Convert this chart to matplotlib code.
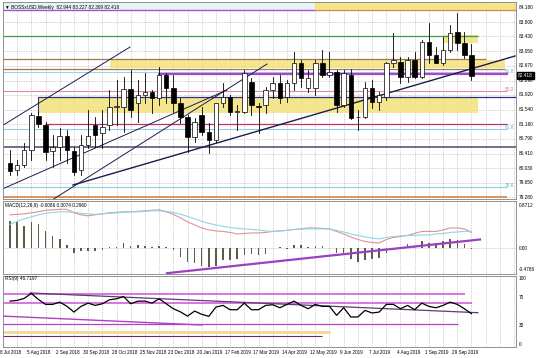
import matplotlib
matplotlib.use("Agg")
import matplotlib.pyplot as plt
from matplotlib.patches import Rectangle

# weekly bars, 8 Jul 2018 .. 6 Oct 2019
opens = [80.17, 79.98, 80.11, 80.50, 81.38, 81.15, 80.47, 80.58, 80.86, 80.47,
         79.98, 80.63, 81.15, 80.94, 81.15, 81.61, 81.61, 82.07, 81.71, 81.92,
         82.00, 81.84, 82.43, 82.10, 81.71, 81.35, 80.84, 81.40, 80.96, 80.76,
         81.71, 81.87, 81.48, 81.48, 82.25, 81.64, 81.66, 82.05, 82.23, 81.87,
         82.23, 82.74, 82.10, 82.10, 82.74, 82.43, 82.51, 81.66, 82.43, 81.35,
         81.35, 82.10, 81.74, 81.87, 82.74, 82.77, 82.38, 82.82, 82.38, 83.28,
         82.95, 82.74, 83.08, 83.54, 83.26, 82.944]
highs = [80.50, 80.24, 80.68, 81.45, 81.48, 81.22, 80.89, 81.07, 81.02, 80.58,
         80.89, 81.53, 81.35, 81.53, 82.05, 82.30, 82.38, 82.56, 82.30, 82.49,
         82.05, 82.64, 82.49, 82.43, 81.84, 81.40, 81.33, 81.61, 81.20, 81.72,
         82.23, 81.92, 81.66, 82.56, 82.36, 81.71, 82.12, 82.38, 82.43, 82.30,
         83.03, 82.82, 82.56, 82.82, 83.08, 83.03, 82.56, 82.56, 82.59, 81.53,
         82.25, 82.30, 82.00, 82.77, 83.52, 82.90, 82.90, 83.03, 83.34, 83.78,
         83.16, 83.41, 83.72, 84.03, 83.54, 83.227]
lows = [79.86, 79.86, 80.06, 80.24, 81.09, 80.24, 80.06, 80.24, 80.17, 79.86,
        79.86, 80.55, 80.58, 80.55, 81.02, 81.15, 80.96, 81.35, 81.22, 81.71,
        81.45, 81.66, 81.71, 81.48, 81.20, 80.45, 80.71, 80.89, 80.42, 80.71,
        81.61, 81.40, 81.02, 81.45, 81.40, 80.94, 81.45, 81.84, 81.71, 81.74,
        82.05, 82.12, 81.99, 81.92, 82.38, 82.38, 81.48, 81.60, 81.30, 81.01,
        81.33, 81.58, 81.53, 81.79, 82.64, 82.23, 82.25, 82.36, 82.36, 82.74,
        82.74, 82.69, 83.03, 83.08, 82.87, 82.309]
closes = [79.96, 80.11, 80.50, 81.40, 81.17, 80.45, 80.58, 80.86, 80.50, 79.93,
          80.63, 80.86, 80.89, 81.09, 81.61, 81.63, 82.07, 81.53, 81.92, 82.00,
          81.84, 82.43, 82.10, 81.71, 81.35, 80.84, 81.22, 80.96, 80.76, 81.71,
          81.87, 81.48, 81.50, 82.49, 81.66, 81.62, 82.05, 82.23, 81.84, 82.23,
          82.74, 82.36, 82.36, 82.74, 82.43, 82.51, 81.66, 82.49, 81.33, 81.36,
          82.10, 81.74, 81.92, 82.74, 82.82, 82.38, 82.82, 82.38, 83.28, 82.95,
          82.74, 83.08, 83.52, 83.26, 82.95, 82.418]

macd_hist = [0.54, 0.51, 0.44, 0.51, 0.48, 0.33, 0.23, 0.17, 0.07, -0.09,
             -0.06, -0.05, -0.05, -0.04, 0.02, 0.03, 0.10, 0.05, 0.06, 0.05,
             0.02, 0.04, 0.02, -0.03, -0.17, -0.27, -0.30, -0.35, -0.37, -0.35,
             -0.24, -0.24, -0.21, -0.13, -0.11, -0.14, -0.11, 0.01, 0.02, -0.02,
             0.06, 0.06, 0.02, 0.04, 0.04, 0.00, -0.09, -0.09, -0.21, -0.27,
             -0.24, -0.22, -0.19, -0.09, 0.00, -0.01, 0.08, 0.05, 0.13, 0.10,
             0.10, 0.13, 0.17, 0.15, 0.08, -0.01]
macd_red = [0.66, 0.67, 0.68, 0.70, 0.72, 0.75, 0.76, 0.77, 0.77, 0.70,
            0.66, 0.64, 0.66, 0.68, 0.70, 0.71, 0.72, 0.72, 0.73, 0.74,
            0.75, 0.76, 0.72, 0.67, 0.60, 0.52, 0.46, 0.40, 0.36, 0.34,
            0.33, 0.31, 0.28, 0.29, 0.30, 0.30, 0.31, 0.33, 0.34, 0.35,
            0.37, 0.38, 0.40, 0.40, 0.39, 0.38, 0.33, 0.28, 0.22, 0.17,
            0.13, 0.11, 0.10, 0.17, 0.21, 0.23, 0.25, 0.29, 0.33, 0.33,
            0.33, 0.36, 0.40, 0.40, 0.38, 0.31]
macd_cyan = [0.47, 0.53, 0.58, 0.62, 0.66, 0.69, 0.71, 0.72, 0.72, 0.71,
             0.69, 0.68, 0.67, 0.68, 0.69, 0.70, 0.71, 0.72, 0.72, 0.73,
             0.74, 0.74, 0.73, 0.71, 0.67, 0.63, 0.58, 0.53, 0.49, 0.46,
             0.43, 0.41, 0.39, 0.38, 0.37, 0.36, 0.34, 0.33, 0.34, 0.35,
             0.37, 0.38, 0.38, 0.38, 0.38, 0.38, 0.35, 0.32, 0.28, 0.25,
             0.22, 0.20, 0.18, 0.21, 0.23, 0.24, 0.25, 0.25, 0.26, 0.26,
             0.28, 0.29, 0.31, 0.32, 0.33, 0.33]
rsi = [64.6, 65.6, 68.5, 75.5, 67.0, 60.0, 60.0, 63.2, 57.5, 49.2,
       57.2, 61.8, 58.6, 60.9, 66.5, 67.9, 71.1, 60.9, 64.6, 64.6,
       61.8, 67.9, 60.9, 53.9, 49.5, 43.5, 50.6, 46.0, 43.2, 56.2,
       58.6, 52.5, 52.5, 61.8, 52.5, 52.5, 58.6, 59.5, 55.3, 60.0,
       64.6, 58.6, 53.9, 60.0, 57.2, 57.2, 44.6, 55.3, 42.3, 42.3,
       51.6, 47.9, 49.2, 60.0, 60.0, 53.9, 58.6, 52.5, 61.8, 57.2,
       55.3, 58.6, 63.2, 60.0, 53.9, 46.9]

date_labels = ["8 Jul 2018", "5 Aug 2018", "2 Sep 2018", "30 Sep 2018", "28 Oct 2018",
               "25 Nov 2018", "23 Dec 2018", "20 Jan 2019", "17 Feb 2019", "17 Mar 2019",
               "14 Apr 2019", "12 May 2019", "9 Jun 2019", "7 Jul 2019", "4 Aug 2019",
               "1 Sep 2019", "29 Sep 2019"]
price_ticks = [84.180, 83.800, 83.430, 83.050, 82.670, 82.290, 81.920,
               81.540, 81.160, 80.790, 80.410, 80.030, 79.650, 79.280]

plt.rcParams["font.family"] = ["Liberation Sans", "DejaVu Sans"]

W, H = 536, 358
fig = plt.figure(figsize=(W / 100, H / 100), dpi=100)
fig.patch.set_facecolor("white")


def px_axes(x0, y0, x1, y1):
    return fig.add_axes([x0 / W, 1 - y1 / H, (x1 - x0) / W, (y1 - y0) / H])


ax = px_axes(3, 2, 516, 199)
ax_m = px_axes(3, 201, 516, 274)
ax_r = px_axes(3, 276, 516, 347)

XMIN, XMAX = -0.99, 71.27
FS = 3.4
GRID = "#a8a8a8"
n = len(closes)

for a in (ax, ax_m, ax_r):
    a.set_xlim(XMIN, XMAX)
    a.set_xticks([])
    a.set_yticks([])
    for s in a.spines.values():
        s.set_color("#808080")
        s.set_linewidth(0.6)
    for i in range(1, 72, 2):
        a.axvline(i, color=GRID, ls=(0, (1, 1.5)), lw=0.5, zorder=0)

# ---------------- price panel ----------------
ax.set_ylim(79.237, 84.317)
for p in price_ticks:
    ax.axhline(p, color=GRID, ls=(0, (1, 1.5)), lw=0.5, zorder=0)


def hline(a, y, x0, x1, color, lw=0.8, z=1):
    a.plot([x0, x1], [y, y], color=color, lw=lw, zorder=z, solid_capstyle="butt")


def zone(a, x0, x1, y0, y1, color="#f3e27a", alpha=0.85):
    a.add_patch(Rectangle((x0, y0), x1 - x0, y1 - y0, facecolor=color,
                          edgecolor="none", alpha=alpha, zorder=0.5))


# supply / demand zones
zone(ax, XMIN, 43.0, 84.11, 84.32, color="#e6f3f7", alpha=1)
zone(ax, 43.0, XMAX, 84.11, 84.32)
zone(ax, 61.0, 65.9, 83.27, 83.47)
zone(ax, 14.1, 69.7, 82.61, 82.82)
zone(ax, 3.94, 65.9, 81.45, 81.87)

hline(ax, 84.10, XMIN, 43.0, "#b050c8", 1.0)
hline(ax, 84.11, 43.0, XMAX, "#e0903a", 1.0)
hline(ax, 83.44, XMIN, 65.9, "#3c9a4a", 0.9)
hline(ax, 82.85, XMIN, 67.0, "#a07850", 0.9)
hline(ax, 82.60, XMIN, 69.7, "#a07850", 0.9)
hline(ax, 82.50, XMIN, 70.1, "#9ad4e4", 0.8)
hline(ax, 82.45, 20.8, 70.1, "#b040d0", 1.6)
hline(ax, 82.02, XMIN, 70.0, "#e08aa8", 0.8)
hline(ax, 81.88, 3.94, XMAX, "#303080", 0.9)
ax.plot([3.94, 3.94], [81.45, 81.87], color="#303080", lw=0.8, zorder=1)
hline(ax, 81.17, 4.93, 70.0, "#c03070", 0.9)
hline(ax, 81.03, XMIN, 70.0, "#8fd0dc", 0.8)
hline(ax, 80.58, XMIN, XMAX, "#70708a", 1.4)
hline(ax, 79.55, XMIN, 70.0, "#8fd0dc", 0.8)
hline(ax, 79.30, XMIN, 70.0, "#e08040", 1.2)

# trend lines
trend = "#1c1c50"
ax.plot([-1.41, 16.90], [81.093, 83.156], color=trend, lw=0.7, zorder=2)
ax.plot([-1.41, 30.56], [79.469, 82.047], color=trend, lw=0.7, zorder=2)
ax.plot([5.92, 36.20], [79.211, 82.718], color=trend, lw=0.7, zorder=2)
ax.plot([8.87, 71.13], [79.598, 82.924], color=trend, lw=1.0, zorder=2)

# candles
bw = 0.64
for i in range(n):
    o, h, l, c = opens[i], highs[i], lows[i], closes[i]
    ax.plot([i, i], [l, h], color="black", lw=0.6, zorder=3)
    up = c >= o
    ax.add_patch(Rectangle((i - bw / 2, min(o, c)), bw, max(abs(c - o), 0.012),
                           facecolor="white" if up else "black",
                           edgecolor="black", lw=0.5, zorder=4))

# level tags
tr = ax.get_yaxis_transform()
for y, t, col in [(82.52, "61.8", "#5fb8c8"), (82.06, "50.0", "#e07090"),
                  (81.07, "61.8", "#5fb8c8"), (79.59, "78.6", "#5fb8c8")]:
    ax.text(0.987, y, t, transform=tr, fontsize=FS, color=col, ha="center", va="center")

for p in price_ticks:
    ax.text(1.005, p, f"{p:.3f}", transform=tr, fontsize=FS, va="center", ha="left",
            clip_on=False)
ax.text(1.004, closes[-1], f"{closes[-1]:.3f}", transform=tr, fontsize=FS, va="center",
        ha="left", color="white", clip_on=False,
        bbox=dict(facecolor="black", edgecolor="black", pad=0.5))

ax.text(0.003, 0.985, "\u25bc BOSSxUSD,Weekly  82.944 83.227 82.309 82.418",
        transform=ax.transAxes, fontsize=FS, va="top", ha="left")

# ---------------- MACD panel ----------------
ax_m.set_ylim(-0.516, 0.935)
ax_m.axhline(0, color=GRID, ls=(0, (1, 1.5)), lw=0.5, zorder=0)
ax_m.bar(range(n), macd_hist, width=0.22, color="#5c5c48", zorder=2)
ax_m.plot(range(n), macd_red, color="#e0909a", lw=0.8, zorder=3)
ax_m.plot(range(n), macd_cyan, color="#8ad8e4", lw=0.8, zorder=3)
ax_m.plot([22.1, 66.2], [-0.50, 0.17], color="#9a40c0", lw=1.6, zorder=4)
trm = ax_m.get_yaxis_transform()
for v, t in [(0.85, "0.8712"), (0.0, "0.00"), (-0.43, "-0.4786")]:
    ax_m.text(1.005, v, t, transform=trm, fontsize=FS, va="center", ha="left", clip_on=False)
ax_m.text(0.003, 0.97, "MACD(12,26,9) -0.0086 0.3074 0.2960", transform=ax_m.transAxes,
          fontsize=FS, va="top", ha="left")

# ---------------- RSI panel ----------------
ax_r.set_ylim(0, 100)
ax_r.plot(range(n), rsi, color="black", lw=0.9, zorder=4)
hline(ax_r, 74.6, XMIN, 64.1, "#d050d8", 1.1)
hline(ax_r, 61.5, XMIN, 65.1, "#d050d8", 1.1)
hline(ax_r, 32.0, XMIN, 63.1, "#b040c0", 0.9)
hline(ax_r, 21.5, XMIN, 45.1, "#f5d890", 2.0)
hline(ax_r, 15.9, XMIN, 43.9, "#6a2a70", 0.8)
ax_r.plot([2.82, 65.9], [76.1, 48.3], color="#603a70", lw=0.9, zorder=3)
ax_r.plot([-1.41, 27.0], [43.7, 31.0], color="#b040c0", lw=1.0, zorder=3)
trr = ax_r.get_yaxis_transform()
for v, yy in [(100, 96), (70, 70), (30, 30), (0, 4)]:
    ax_r.text(1.005, yy, str(v), transform=trr, fontsize=FS, va="center", ha="left", clip_on=False)
ax_r.text(0.003, 0.995, "RSI(9) 46.7197", transform=ax_r.transAxes,
          fontsize=FS, va="top", ha="left")

for k, lab in enumerate(date_labels):
    ax_r.text(k * 4 + 0.1, -4, lab, fontsize=3.35, ha="center", va="top", clip_on=False)

fig.savefig("out.png", dpi=100)
